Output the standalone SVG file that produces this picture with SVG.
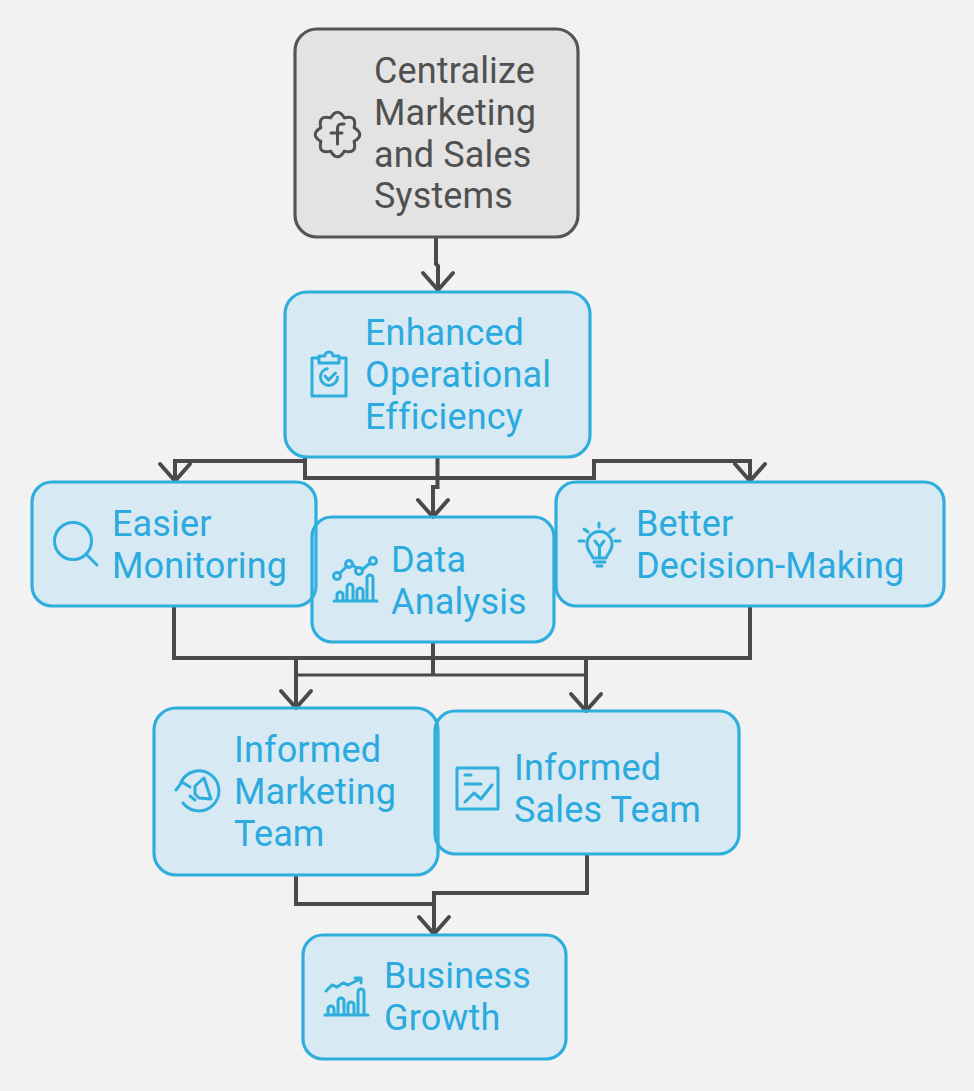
<svg xmlns="http://www.w3.org/2000/svg" width="974" height="1091" viewBox="0 0 974 1091">
<style>
  .box { fill: #61c0f2; fill-opacity: .18; stroke: #2eaedc; stroke-width: 3.2; }
  .grey { fill: #e3e3e3; fill-opacity: 1; stroke: #555; }
  text { font-family: Roboto, "Liberation Sans", sans-serif; font-size: 36px; fill: #2aaade; letter-spacing: .15px; }
  .grey-t { fill: #505050; }
  .ic { fill: none; stroke: #2eaedc; stroke-width: 3; stroke-linecap: round; stroke-linejoin: round; }
  .ic-g { stroke: #505050; }
  .w { fill: none; stroke: #4a4a4a; stroke-width: 4; stroke-linejoin: miter; }
  .t { stroke-width: 3; }
  .head { fill: none; stroke: #4a4a4a; stroke-width: 4; stroke-linecap: round; stroke-linejoin: round; }
</style>
<defs>
  <path id="arrow" class="head" d="M-15-17 0 0 15-17"/>
  <!-- four arched bars on a baseline, shared by the two chart icons -->
  <path id="bars" class="ic" d="M0 0H43M3 0V-6a3 3 0 0 1 6 0V0M13 0V-14a3 3 0 0 1 6 0V0M23 0V-10a3 3 0 0 1 6 0V0M33 0V-23a3 3 0 0 1 6 0V0"/>
</defs>
<rect width="974" height="1091" fill="#f2f2f2"/>

<g id="connectors">
  <path class="w" d="M436 237V264L438 266V290"/>
  <path class="w" d="M305 458V461H175V482"/>
  <path class="w" d="M305 458V478H594V461H750V482"/>
  <path class="w" d="M437.500 458V487H433V517"/>
  <path class="w" d="M174 606V658H750V606"/>
  <path class="w" d="M296 658V708"/>
  <path class="w" d="M586 658V711"/>
  <path class="w" d="M433 642V676"/>
  <path class="w t" d="M296 675H586"/>
  <path class="w" d="M296 875V904H434V935"/>
  <path class="w" d="M587 854V893H434V904"/>
  <use href="#arrow" x="438" y="290"/>
  <use href="#arrow" x="175" y="481"/>
  <use href="#arrow" x="750" y="481"/>
  <use href="#arrow" x="433" y="517"/>
  <use href="#arrow" x="296" y="708"/>
  <use href="#arrow" x="586" y="711"/>
  <use href="#arrow" x="434" y="934"/>
</g>

<g id="centralize">
  <rect class="box grey" x="295" y="29" width="283" height="208" rx="22"/>
  <path class="ic ic-g" d="M354.100 141.400Q365.500 134.500 354.100 127.600Q357.300 114.700 344.400 117.900Q337.500 106.500 330.600 117.900Q317.700 114.700 320.900 127.600Q309.500 134.500 320.900 141.400Q317.700 154.300 330.600 151.100Q337.500 162.500 344.400 151.100Q357.300 154.300 354.100 141.400Z"/>
  <path class="ic ic-g" d="M344 124h-2.500a4 4 0 0 0-4 4v16M331 133h11"/>
  <text class="grey-t" x="374" y="83">Centralize</text>
  <text class="grey-t" x="374" y="125">Marketing</text>
  <text class="grey-t" x="374" y="167">and Sales</text>
  <text class="grey-t" x="374" y="208">Systems</text>
</g>

<g id="enhanced">
  <rect class="box" x="285" y="292" width="305" height="165" rx="22"/>
  <path class="ic" d="M319 358h-7v38h34v-38h-7M319 356h6a4 4 0 0 1 8 0h6v7h-20z"/>
  <circle class="ic" cx="329" cy="377" r="8.500" stroke-dasharray="38 16"/>
  <path class="ic" d="M325 376l3.500 4 7-7"/>
  <text x="365" y="345">Enhanced</text>
  <text x="365" y="387">Operational</text>
  <text x="365" y="429">Efficiency</text>
</g>

<g id="easier">
  <rect class="box" x="32" y="482" width="284" height="124" rx="20"/>
  <circle class="ic" cx="73" cy="541" r="18.500"/>
  <path class="ic" d="M86 554l11 11"/>
  <text x="112" y="536">Easier</text>
  <text x="112" y="578">Monitoring</text>
</g>

<g id="analysis">
  <rect class="box" x="312" y="517" width="242" height="125" rx="20"/>
  <use href="#bars" x="334" y="601"/>
  <path class="ic" d="M340 573l7-7M353 565l3 3M363 569l6-5"/>
  <g class="ic"><circle cx="337" cy="576" r="3.500"/><circle cx="349" cy="564" r="3.500"/><circle cx="359" cy="571" r="3.500"/><circle cx="373" cy="561" r="3.500"/></g>
  <text x="391" y="572">Data</text>
  <text x="391" y="614">Analysis</text>
</g>

<g id="better">
  <rect class="box" x="556" y="482" width="388" height="124" rx="20"/>
  <path class="ic" d="M599 523v4M584 529l4 3M614 529l-4 3M579 541h5M615 541h5"/>
  <path class="ic" d="M593 558c-2-5-6-7-6-14a12.500 12.500 0 0 1 25 0c0 7-4 9-6 14z"/>
  <path class="ic" d="M599.500 556v-9M595 541l4.500 6 4.500-6M594 562h11M597 566h5"/>
  <text x="636" y="536">Better</text>
  <text x="636" y="578">Decision-Making</text>
</g>

<g id="marketing">
  <rect class="box" x="154" y="708" width="284" height="167" rx="22"/>
  <path class="ic" d="M181 782a20 20 0 1 1 2 21M176 790l6-8 8 5"/>
  <path class="ic" d="M195 786l9-8 7 21-12-1-4-4zM190 796l5 4"/>
  <text x="234" y="762">Informed</text>
  <text x="234" y="804">Marketing</text>
  <text x="234" y="846">Team</text>
</g>

<g id="sales">
  <rect class="box" x="435" y="711" width="304" height="143" rx="20"/>
  <rect class="ic" x="457" y="768" width="41" height="41"/>
  <path class="ic" d="M465 775h6M465 784h16M465 802l9-9 7 6 11-14"/>
  <text x="514" y="780">Informed</text>
  <text x="514" y="822">Sales Team</text>
</g>

<g id="growth">
  <rect class="box" x="303" y="935" width="263" height="124" rx="20"/>
  <use href="#bars" x="325" y="1015"/>
  <path class="ic" d="M326 991l6-6 5 2 6-4 5 2 12-6M355 978h6v5"/>
  <text x="384" y="988">Business</text>
  <text x="384" y="1030">Growth</text>
</g>
</svg>
